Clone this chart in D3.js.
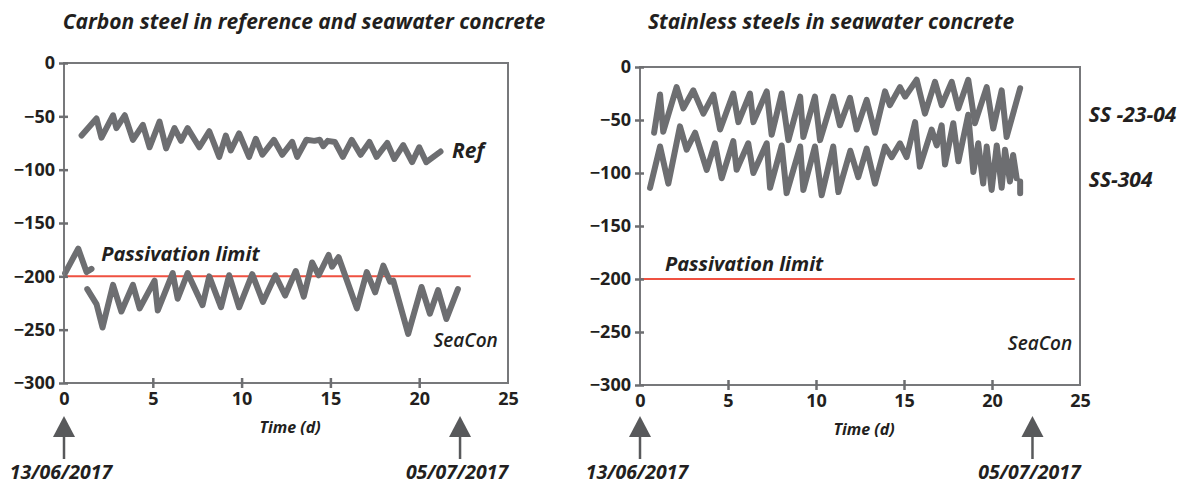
<!DOCTYPE html>
<html>
  <head>
    <meta charset="utf-8" />
    <title>Corrosion potential</title>
    <script src="https://d3js.org/d3.v7.min.js"></script>
    <style>
      body { margin: 0; background: #fff; }
      text { font-family: "Open Sans", "DejaVu Sans", sans-serif; fill: #231f20; }
    </style>
  </head>
  <body>
    <svg id="chart" width="1187" height="491"></svg>

    <script>
      // axis ticks and markers
      var xTicks = [0, 5, 10, 15, 20, 25];
      var yTicks = [0, -50, -100, -150, -200, -250, -300];
      var passivationLimit = -200;
      var markerDays = [0, 22.3];
      var markerLabels = ["13/06/2017", "05/07/2017"];

      // carbon steel, [time (d), potential]
      var carbonRef = [
        [0.99, -68], [1.83, -52], [2.11, -70], [2.76, -49], [2.95, -61], [3.42, -49], [3.88, -72],
        [4.44, -58], [4.82, -79], [5.38, -55], [5.75, -80], [6.22, -61], [6.59, -73], [6.96, -61],
        [7.62, -79], [8.18, -64], [8.74, -88], [9.11, -68], [9.39, -82], [9.86, -66], [10.42, -88],
        [10.8, -71], [11.17, -86], [11.82, -72], [12.29, -86], [12.85, -74], [13.13, -88], [13.65, -72],
        [14.1, -73], [14.4, -72], [14.6, -78], [14.85, -73], [15.25, -74], [15.7, -88], [16.2, -72],
        [16.7, -86], [17.2, -74], [17.6, -88], [18.2, -75], [18.6, -90], [19.1, -77], [19.6, -93],
        [20.0, -79], [20.4, -93], [21.2, -83]
      ];
      var carbonSeaCon = [
        [0.06, -197], [0.8, -174], [1.27, -196], [1.55, -193], null,
        [1.31, -212], [1.83, -226], [2.17, -248], [2.76, -208], [3.23, -233], [3.88, -208], [4.26, -230],
        [5.1, -204], [5.28, -232], [6.12, -197], [6.4, -221], [6.96, -197], [7.8, -227], [8.18, -200],
        [8.84, -229], [9.3, -199], [9.86, -229], [10.6, -198], [11.2, -224], [11.9, -199], [12.45, -218],
        [13.05, -195], [13.5, -219], [13.97, -187], [14.34, -199], [14.9, -180], [15.09, -191],
        [15.46, -182], [16.49, -230], [17.05, -196], [17.52, -215], [17.98, -190], [18.36, -205],
        [18.54, -204], [19.38, -254], [20.13, -210], [20.6, -235], [21.06, -213], [21.53, -240],
        [22.18, -212]
      ];

      // stainless steels
      var ss2304 = [
        [0.8, -62], [1.14, -26], [1.32, -61], [2.08, -19], [2.46, -39], [3.03, -22], [3.6, -44],
        [4.17, -26], [4.55, -59], [5.3, -25], [5.59, -52], [6.25, -25], [6.44, -52], [7.2, -23],
        [7.48, -64], [8.05, -25], [8.43, -69], [9.1, -28], [9.28, -66], [9.94, -28], [10.23, -69],
        [10.98, -28], [11.36, -55], [11.93, -29], [12.31, -59], [12.88, -31], [13.35, -62], [13.92, -23],
        [14.2, -36], [14.77, -19], [15.06, -28], [15.72, -12], [16.19, -44], [16.76, -14], [17.14, -36],
        [17.71, -14], [18.09, -39], [18.65, -12], [19.03, -53], [19.7, -19], [20.07, -58], [20.55, -22],
        [20.83, -66], [21.6, -20]
      ];
      var ss304 = [
        [0.57, -114], [1.14, -75], [1.61, -110], [2.27, -56], [2.65, -78], [3.13, -62], [3.79, -97],
        [4.26, -72], [4.64, -105], [5.3, -70], [5.49, -97], [6.15, -72], [6.44, -100], [7.2, -72],
        [7.39, -114], [8.05, -74], [8.33, -119], [9.1, -75], [9.28, -116], [9.94, -75], [10.32, -121],
        [10.98, -75], [11.27, -118], [11.95, -79], [12.4, -104], [12.88, -77], [13.35, -110], [13.92, -75],
        [14.3, -85], [14.77, -72], [15.15, -85], [15.63, -52], [15.9, -94], [16.57, -59], [16.86, -74],
        [17.14, -55], [17.33, -92], [17.8, -53], [18.09, -89], [18.65, -45], [18.94, -99], [19.22, -72],
        [19.5, -110], [19.7, -75], [19.98, -116], [20.27, -74], [20.55, -114], [20.74, -78], [21.02, -108],
        [21.2, -83], [21.4, -105], null, [21.6, -108], [21.6, -119]
      ];

      var panels = [
        {
          left: 64, right: 508, top: 63, bottom: 383, titleX: 304,
          title: "Carbon steel in reference and seawater concrete",
          series: [carbonRef, carbonSeaCon],
          passEnd: 22.9,
          labels: [
            { text: "Passivation limit", t: 2.1, v: -186, size: 20, weight: 700 },
            { text: "Ref", t: 21.85, v: -89, size: 21, weight: 700 },
            { text: "SeaCon", t: 20.8, v: -266, size: 19, weight: 600 }
          ]
        },
        {
          left: 640, right: 1080, top: 67, bottom: 385, titleX: 831,
          title: "Stainless steels in seawater concrete",
          series: [ss2304, ss304],
          passEnd: 24.7,
          labels: [
            { text: "Passivation limit", t: 1.42, v: -192, size: 20, weight: 700 },
            { text: "SeaCon", t: 20.9, v: -267, size: 19, weight: 600 },
            { text: "SS -23-04", t: 25.5, v: -52, size: 21, weight: 700 },
            { text: "SS-304", t: 25.5, v: -113, size: 21, weight: 700 }
          ]
        }
      ];

      var svg = d3.select("#chart");

      panels.forEach(function(p) {
        var x = d3.scaleLinear().domain([0, 25]).range([p.left, p.right]);
        var y = d3.scaleLinear().domain([-300, 0]).range([p.bottom, p.top]);
        var g = svg.append("g");

        // title
        g.append("text")
          .attr("x", p.titleX)
          .attr("y", 29)
          .attr("text-anchor", "middle")
          .style("font-size", "21px")
          .style("font-weight", 700)
          .style("font-style", "italic")
          .text(p.title);

        // passivation limit
        g.append("line")
          .attr("x1", x(0)).attr("x2", x(p.passEnd))
          .attr("y1", y(passivationLimit)).attr("y2", y(passivationLimit))
          .attr("stroke", "#ef5141")
          .attr("stroke-width", 2);

        // series
        var line = d3.line()
          .defined(function(d) { return d !== null; })
          .x(function(d) { return x(d[0]); })
          .y(function(d) { return y(d[1]); });

        p.series.forEach(function(s) {
          g.append("path")
            .datum(s)
            .attr("d", line)
            .attr("fill", "none")
            .attr("stroke", "#6d6e71")
            .attr("stroke-width", 6)
            .attr("stroke-linejoin", "round")
            .attr("stroke-linecap", "round");
        });

        // frame
        g.append("rect")
          .attr("x", x(0)).attr("y", y(0))
          .attr("width", x(25) - x(0)).attr("height", y(-300) - y(0))
          .attr("fill", "none")
          .attr("stroke", "#77787b")
          .attr("stroke-width", 2);

        // y axis
        var yAxis = g.append("g")
          .attr("transform", "translate(" + x(0) + ",0)")
          .call(d3.axisLeft(y).tickValues(yTicks).tickSize(5).tickPadding(9));
        yAxis.select(".domain").remove();
        yAxis.selectAll(".tick line").attr("x1", 4).attr("x2", -5)
          .attr("stroke", "#6d6e71").attr("stroke-width", 2.5);
        yAxis.selectAll(".tick text")
          .attr("x", -9)
          .style("font-size", "18px").style("font-weight", 700).style("fill", "#231f20")
          .style("font-family", "'Open Sans', sans-serif");

        // x axis
        var xAxis = g.append("g")
          .attr("transform", "translate(0," + y(-300) + ")")
          .call(d3.axisBottom(x).tickValues(xTicks).tickSize(5).tickPadding(6));
        xAxis.select(".domain").remove();
        xAxis.selectAll(".tick line").attr("y1", -5).attr("y2", 5)
          .attr("stroke", "#6d6e71").attr("stroke-width", 2.5);
        xAxis.selectAll(".tick text")
          .attr("y", 9)
          .style("font-size", "18px").style("font-weight", 700).style("fill", "#231f20")
          .style("font-family", "'Open Sans', sans-serif");
        xAxis.selectAll(".tick").filter(function(d) { return d === 0 || d === 25; })
          .select("line").remove();

        g.append("text")
          .attr("x", (p.left + p.right) / 2 + 4)
          .attr("y", y(-300) + 50)
          .attr("text-anchor", "middle")
          .style("font-size", "16px")
          .style("font-weight", 700)
          .style("font-style", "italic")
          .text("Time (d)");

        // series labels
        p.labels.forEach(function(l) {
          g.append("text")
            .attr("x", x(l.t))
            .attr("y", y(l.v))
            .style("font-size", l.size + "px")
            .style("font-weight", l.weight)
            .style("font-style", "italic")
            .text(l.text);
        });

        // date markers
        markerDays.forEach(function(day, i) {
          var mx = x(day);
          g.append("path")
            .attr("d", "M" + mx + "," + 416 + "L" + (mx + 11) + "," + 437 + "L" + (mx - 11) + "," + 437 + "Z")
            .attr("fill", "#58595b");
          g.append("line")
            .attr("x1", mx).attr("x2", mx)
            .attr("y1", 436).attr("y2", 459)
            .attr("stroke", "#58595b")
            .attr("stroke-width", 2.5);
          g.append("text")
            .attr("x", mx - 3)
            .attr("y", 479)
            .attr("text-anchor", "middle")
            .style("font-size", "19.5px")
            .style("font-weight", 700)
            .style("font-style", "italic")
            .text(markerLabels[i]);
        });
      });
    </script>
  </body>
</html>
